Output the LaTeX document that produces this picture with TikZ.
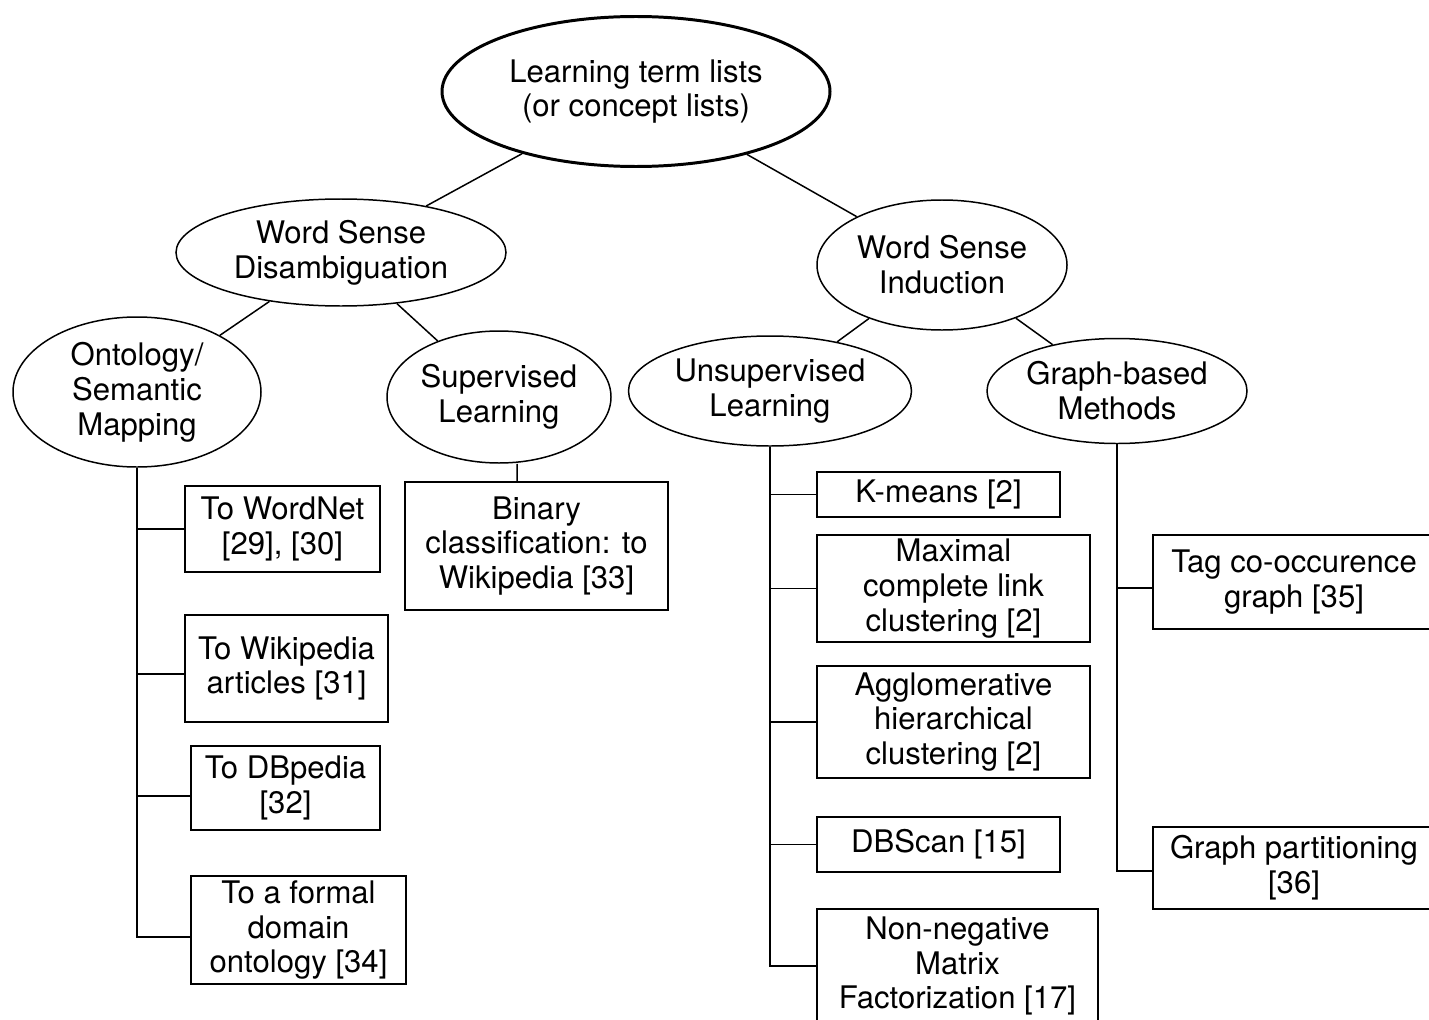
\documentclass[tikz,border=0pt]{standalone}
\usepackage{fontspec}
\setmainfont{TeX Gyre Heros}
\usetikzlibrary{shapes.geometric}
\tikzset{
  topic/.style={ellipse, draw, line width=0.85pt, align=center, inner sep=0pt},
  rootnode/.style={topic, line width=1.7pt},
  leafbox/.style={rectangle, draw, line width=0.85pt, align=center, inner sep=0pt},
  link/.style={line width=0.85pt}
}

\begin{document}
\begin{tikzpicture}[font=\fontsize{17.7}{19.85}\selectfont]
    \useasboundingbox (0,0) rectangle (28.58,-20.38);
    \clip (0,0) rectangle (28.58,-20.38);
    % ellipses
    \node[rootnode, minimum width=7.76cm, minimum height=3.0cm] (root) at (12.72,-1.83) {Learning term lists\\(or concept lists)};
    \node[topic, minimum width=6.6cm, minimum height=2.14cm] (wsd) at (6.82,-5.05) {Word Sense\\Disambiguation};
    \node[topic, minimum width=5.0cm, minimum height=2.6cm] (wsi) at (18.84,-5.30) {Word Sense\\Induction};
    \node[topic, minimum width=4.96cm, minimum height=3.0cm] (onto) at (2.74,-7.84) {Ontology/\\Semantic\\Mapping};
    \node[topic, minimum width=4.48cm, minimum height=2.64cm] (superv) at (9.98,-7.94) {Supervised\\Learning};
    \node[topic, minimum width=5.66cm, minimum height=2.2cm] (unsup) at (15.40,-7.82) {Unsupervised\\Learning};
    \node[topic, minimum width=5.2cm, minimum height=2.1cm] (graphb) at (22.34,-7.82) {Graph-based\\Methods};
    % boxes
    \node[leafbox, minimum width=3.9cm, minimum height=1.72cm] (wordnet) at (5.65,-10.58) {To WordNet\\{}[29], [30]};
    \node[leafbox, minimum width=4.06cm, minimum height=2.14cm] (wikip) at (5.73,-13.37) {To Wikipedia\\articles [31]};
    \node[leafbox, minimum width=3.78cm, minimum height=1.68cm] (dbpedia) at (5.71,-15.76) {To DBpedia\\{}[32]};
    \node[leafbox, minimum width=4.3cm, minimum height=2.16cm] (formal) at (5.97,-18.60) {To a formal\\domain\\ontology [34]};
    \node[leafbox, minimum width=5.26cm, minimum height=2.56cm] (binary) at (10.73,-10.92) {Binary\\classification: to\\Wikipedia [33]};
    \node[leafbox, minimum width=4.86cm, minimum height=0.9cm] (kmeans) at (18.77,-9.89) {K-means [2]};
    \node[leafbox, minimum width=5.46cm, minimum height=2.14cm] (maximal) at (19.07,-11.77) {Maximal\\complete link\\clustering [2]};
    \node[leafbox, minimum width=5.46cm, minimum height=2.24cm] (agglo) at (19.07,-14.44) {Agglomerative\\hierarchical\\clustering [2]};
    \node[leafbox, minimum width=4.86cm, minimum height=1.1cm] (dbscan) at (18.77,-16.89) {DBScan [15]};
    \node[leafbox, minimum width=5.62cm, minimum height=2.28cm] (nmf) at (19.15,-19.32) {Non-negative\\Matrix\\Factorization [17]};
    \node[leafbox, minimum width=5.64cm, minimum height=1.88cm] (tagco) at (25.88,-11.64) {Tag co-occurence\\graph [35]};
    \node[leafbox, minimum width=5.64cm, minimum height=1.64cm] (gpart) at (25.88,-17.36) {Graph partitioning\\{}[36]};
    % tree edges
    \draw[link] (root) -- (wsd);
    \draw[link] (root) -- (wsi);
    \draw[link] (wsd) -- (onto);
    \draw[link] (wsd) -- (superv);
    \draw[link] (wsi) -- (unsup);
    \draw[link] (wsi) -- (graphb);
    \draw[link] ([xshift=0.36cm]superv.south) -- ([xshift=-0.39cm]binary.north);
    % trunks
    \draw[link] (onto.south) |- (wordnet);
    \draw[link] (onto.south) |- ([yshift=-0.11cm]wikip.west);
    \draw[link] (onto.south) |- ([yshift=-0.16cm]dbpedia.west);
    \draw[link] (onto.south) |- ([yshift=-0.14cm]formal.west);
    \foreach \leaf in {kmeans,maximal,agglo,dbscan,nmf}
      \draw[link] (unsup.south) |- (\leaf);
    \draw[link] (graphb.south) |- ([yshift=-0.12cm]tagco.west);
    \draw[link] (graphb.south) |- ([yshift=-0.06cm]gpart.west);
\end{tikzpicture}
\end{document}
